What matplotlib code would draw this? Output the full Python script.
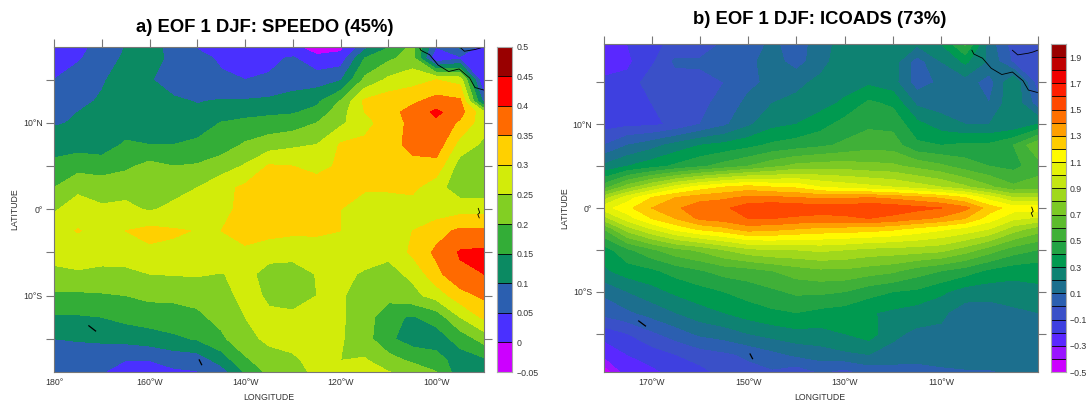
import numpy as np
import matplotlib
matplotlib.use('Agg')
import matplotlib.pyplot as plt

plt.rcParams['font.family'] = ['Liberation Sans', 'DejaVu Sans']

W, H = 1089, 403

# longitudes shared by both maps
lons = [-180, -175, -170, -165, -160, -155, -150, -145, -140, -135, -130, -125, -120, -115, -110, -105, -100, -95, -90]

# panel a
lats_a = [19, 17.5, 15, 12.5, 11.25, 10, 7.5, 5, 2.5, 0, -2.5, -5, -7.5, -10, -12.5, -15, -17.5, -19]
speedo = [
    [.03, .04, .06, .10, .11, .09, .045, .03, .02, .01, .005, -.04, -.02, .07, .14, .21, .06, .12, .03],
    [.03, .045, .07, .11, .115, .09, .06, .045, .035, .04, .055, .015, .02, .15, .19, .22, .00, .04, .03],
    [.05, .07, .095, .12, .105, .07, .06, .055, .05, .055, .07, .075, .095, .21, .26, .28, .30, .28, -.01],
    [.07, .09, .105, .12, .12, .11, .097, .105, .105, .11, .125, .14, .205, .31, .33, .34, .37, .36, .08],
    [.085, .10, .11, .125, .125, .12, .11, .125, .13, .14, .145, .165, .23, .30, .33, .37, .41, .37, .26],
    [.095, .105, .115, .13, .13, .13, .125, .152, .165, .17, .175, .20, .24, .285, .32, .365, .39, .34, .27],
    [.125, .13, .13, .155, .15, .15, .16, .175, .205, .225, .24, .25, .305, .31, .33, .365, .38, .28, .24],
    [.165, .18, .17, .19, .215, .20, .205, .225, .255, .305, .30, .28, .31, .32, .33, .335, .33, .225, .235],
    [.20, .24, .235, .235, .205, .235, .25, .285, .31, .33, .34, .33, .305, .305, .305, .31, .27, .22, .22],
    [.245, .27, .255, .26, .245, .26, .27, .29, .31, .33, .33, .32, .30, .28, .28, .28, .27, .28, .28],
    [.28, .303, .28, .30, .315, .305, .298, .30, .32, .32, .31, .31, .30, .28, .28, .30, .33, .36, .36],
    [.265, .27, .275, .28, .29, .29, .28, .295, .29, .265, .265, .27, .27, .27, .26, .31, .36, .405, .41],
    [.24, .245, .235, .235, .25, .253, .255, .248, .262, .235, .23, .252, .26, .245, .235, .26, .335, .39, .40],
    [.19, .19, .195, .20, .21, .21, .215, .235, .262, .245, .24, .25, .255, .23, .22, .235, .27, .33, .36],
    [.145, .145, .15, .165, .175, .18, .19, .215, .25, .255, .255, .255, .255, .23, .16, .145, .17, .25, .31],
    [.10, .105, .11, .115, .125, .14, .155, .19, .235, .26, .26, .26, .255, .22, .16, .125, .125, .17, .22],
    [.07, .065, .06, .05, .05, .065, .07, .12, .19, .23, .245, .26, .25, .255, .22, .19, .17, .125, .14],
    [.07, .06, .05, .035, .035, .04, .045, .07, .15, .21, .23, .26, .25, .265, .255, .24, .205, .12, .12],
]
levels_a = [-.05, 0, .05, .1, .15, .2, .25, .3, .35, .4, .45, .5]
colors_a = ['#cc00ff', '#4a30ff', '#2b5fb0', '#0b8a62', '#33ad37', '#82cf23',
            '#d2ec0a', '#ffd000', '#ff6a00', '#ff0000', '#990000']
cb_labels_a = ['\u22120.05', '0', '0.05', '0.1', '0.15', '0.2', '0.25', '0.3', '0.35', '0.4', '0.45', '0.5']
cb_ticks_a = levels_a

# panel b
lats_b = [19.6, 17.5, 15, 12.5, 10, 7.5, 5, 2.5, 1.25, 0, -1.25, -2.5, -5, -7.5, -10, -12.5, -15, -17.5, -20]
icoads = [
    [-.25, -.2, -.12, -.08, -.08, .02, .05, .12, .05, .15, .25, .25, .25, .22, .30, .52, .15, -.05, -.10],
    [-.25, -.22, -.12, .02, .02, .05, .07, .15, .05, .17, .25, .25, .25, .05, .20, .32, .18, -.02, -.10],
    [-.18, -.17, -.04, -.05, -.04, .0, .08, .12, .18, .22, .25, .28, .24, .05, .12, .15, .05, .30, -.05],
    [-.14, -.12, -.10, -.08, -.04, .05, .12, .20, .22, .26, .32, .42, .38, .18, .15, .12, .10, .28, .05],
    [-.14, -.12, -.12, -.08, .0, .08, .18, .27, .30, .36, .44, .48, .47, .33, .25, .20, .20, .22, .30],
    [.0, .10, .16, .24, .30, .33, .37, .42, .45, .48, .52, .56, .55, .42, .40, .42, .42, .50, .68],
    [.22, .30, .36, .42, .48, .54, .60, .67, .73, .75, .75, .73, .72, .67, .62, .55, .50, .47, .55],
    [.55, .75, .90, 1.04, 1.14, 1.20, 1.24, 1.20, 1.18, 1.10, 1.06, 1.03, 1.00, .95, .90, .82, .72, .62, .65],
    [.85, 1.05, 1.20, 1.30, 1.35, 1.38, 1.42, 1.42, 1.40, 1.38, 1.38, 1.40, 1.37, 1.33, 1.28, 1.20, 1.05, .90, .90],
    [1.05, 1.17, 1.30, 1.38, 1.47, 1.48, 1.56, 1.58, 1.57, 1.55, 1.55, 1.58, 1.56, 1.53, 1.50, 1.43, 1.25, 1.15, 1.15],
    [.85, 1.05, 1.20, 1.30, 1.42, 1.45, 1.50, 1.50, 1.48, 1.47, 1.48, 1.50, 1.47, 1.42, 1.38, 1.30, 1.15, 1.02, .98],
    [.60, .85, 1.0, 1.13, 1.22, 1.27, 1.35, 1.33, 1.30, 1.27, 1.26, 1.25, 1.22, 1.17, 1.12, 1.07, 1.0, .85, .75],
    [.35, .48, .58, .67, .72, .80, .87, .90, .90, .92, .90, .87, .86, .85, .83, .75, .65, .55, .50],
    [.28, .35, .38, .44, .49, .54, .56, .60, .65, .68, .68, .65, .62, .55, .50, .45, .38, .34, .33],
    [.12, .20, .26, .32, .36, .40, .44, .48, .52, .52, .50, .44, .40, .38, .32, .25, .24, .25, .28],
    [.03, .08, .14, .20, .26, .30, .35, .38, .40, .37, .35, .31, .28, .25, .22, .15, .15, .18, .20],
    [-.16, -.10, -.02, .05, .12, .15, .20, .24, .27, .27, .30, .35, .22, .18, .18, .20, .16, .14, .15],
    [-.28, -.20, -.15, -.10, -.05, -.02, .02, .07, .12, .15, .18, .20, .17, .15, .17, .17, .15, .12, .12],
    [-.52, -.28, -.24, -.18, -.15, -.08, -.05, -.03, -.10, -.02, -.08, .0, .02, .03, .05, .07, .08, .10, .12],
]
levels_b = [-.5, -.4, -.3, -.2, -.1, 0, .1, .2, .3, .4, .5, .6, .7, .8, .9, 1.0, 1.1, 1.2, 1.3, 1.4, 1.5, 1.6, 1.7, 1.8, 1.9, 2.0]
colors_b = ['#cc00ff', '#9a14ff', '#5a28ff', '#3e40e0', '#3a50c8', '#2b5fb0', '#1c6f8e', '#0e8272',
            '#009a50', '#22a344', '#40b038', '#5cbc2d', '#7cc925', '#a0d81c', '#c4e612', '#e4f208',
            '#fffa00', '#ffcc00', '#ff9f00', '#ff7000', '#ff4800', '#ff1e00', '#f00000', '#c00000', '#990000']
cb_ticks_b = [-.5, -.3, -.1, .1, .3, .5, .7, .9, 1.1, 1.3, 1.5, 1.7, 1.9]
cb_labels_b = ['\u22120.5', '\u22120.3', '\u22120.1', '0.1', '0.3', '0.5', '0.7', '0.9', '1.1', '1.3', '1.5', '1.7', '1.9']

# coast and islands, lon/lat
coast_lon = [-103.6, -103.2, -101.4, -99.6, -97.4, -95.2, -93, -91.9, -90]
coast_lat = [18.85, 18.4, 17.9, 16.7, 15.95, 16.25, 15.2, 14.1, 13.8]
coast2_lon = [-95.2, -94.1, -91.9, -90.9, -90]
coast2_lat = [18.85, 18.3, 18.5, 18.65, 18.85]
island1_lon = [-172.7, -171.3]
island1_lat = [-13.5, -14.1]
island2_lon = [-149.6, -149.1]
island2_lat = [-17.45, -18]
gala_lon = [-91.2, -90.9, -91.3, -91.0]
gala_lat = [.1, -.4, -.6, -1]


def px_axes(fig, left, top, right, bottom):
    return fig.add_axes([left / W, 1 - bottom / H, (right - left) / W, (bottom - top) / H])


def draw_map(ax, lats, field, levels, colors, xticks, xlabels, ylim):
    ax.contourf(lons, lats, field, levels=levels, colors=colors, extend='both')
    ax.plot(coast_lon, coast_lat, color='k', lw=0.6)
    ax.plot(coast2_lon, coast2_lat, color='k', lw=0.6)
    ax.plot(island1_lon, island1_lat, color='k', lw=0.9)
    ax.plot(island2_lon, island2_lat, color='k', lw=0.9)
    ax.plot(gala_lon, gala_lat, color='k', lw=0.6)
    ax.set_xlim(-180, -90)
    ax.set_ylim(*ylim)
    ax.set_xticks(xticks)
    ax.set_xticklabels(xlabels)
    ax.set_xticks([t for t in np.arange(-180, -89, 10) if t not in xticks], minor=True)
    ax.set_yticks([10, 0, -10])
    ax.set_yticklabels(['10\u00b0N', '0\u00b0', '10\u00b0S'])
    ax.set_yticks([15, 5, -5, -15], minor=True)
    ax.tick_params(which='both', direction='out', length=6, width=0.8, color='#777777',
                   top=True, right=True, bottom=False, labelsize=6.3, labelcolor='#333333', pad=2)
    ax.tick_params(axis='x', which='major', pad=-1.5)
    for s in ax.spines.values():
        s.set_color('#777777')
        s.set_linewidth(0.8)


def draw_cbar(ax, levels, colors, ticks, labels):
    for i in range(len(colors)):
        ax.axhspan(levels[i], levels[i + 1], color=colors[i], lw=0)
    for lv in levels[1:-1]:
        ax.axhline(lv, color='k', lw=0.6)
    ax.set_ylim(levels[0], levels[-1])
    ax.set_xticks([])
    ax.yaxis.tick_right()
    ax.set_yticks(ticks)
    ax.set_yticklabels(labels)
    ax.tick_params(axis='y', length=0, labelsize=6.3, labelcolor='#333333', pad=3)
    for s in ax.spines.values():
        s.set_color('#aaaaaa')
        s.set_linewidth(0.8)


fig = plt.figure(figsize=(W / 100, H / 100), dpi=100)

ax1 = px_axes(fig, 54, 46.5, 484, 372)
draw_map(ax1, lats_a, speedo, levels_a, colors_a, [-180, -160, -140, -120, -100],
         ['180\u00b0', '160\u00b0W', '140\u00b0W', '120\u00b0W', '100\u00b0W'], (-18.85, 18.85))
cb1 = px_axes(fig, 497, 46.5, 512, 372)
draw_cbar(cb1, levels_a, colors_a, cb_ticks_a, cb_labels_a)

ax2 = px_axes(fig, 603.5, 44, 1037.5, 372)
draw_map(ax2, lats_b, icoads, levels_b, colors_b, [-170, -150, -130, -110],
         ['170\u00b0W', '150\u00b0W', '130\u00b0W', '110\u00b0W'], (-19.6, 19.6))
cb2 = px_axes(fig, 1051, 44, 1065.5, 372)
draw_cbar(cb2, levels_b, colors_b, cb_ticks_b, cb_labels_b)

fig.text(265 / W, 1 - 27 / H, 'a) EOF 1 DJF: SPEEDO (45%)', ha='center', va='center', fontsize=13.3, fontweight='bold')
fig.text(820 / W, 1 - 20 / H, 'b) EOF 1 DJF: ICOADS (73%)', ha='center', va='center', fontsize=13.3, fontweight='bold')
fig.text(269 / W, 1 - 398 / H, 'LONGITUDE', ha='center', va='center', fontsize=6.3, color='#333333')
fig.text(820 / W, 1 - 398 / H, 'LONGITUDE', ha='center', va='center', fontsize=6.3, color='#333333')
fig.text(15 / W, 1 - 209 / H, 'LATITUDE', ha='center', va='center', rotation=90, fontsize=6.3, color='#333333')
fig.text(565 / W, 1 - 208 / H, 'LATITUDE', ha='center', va='center', rotation=90, fontsize=6.3, color='#333333')

fig.savefig('out.png', dpi=100)
